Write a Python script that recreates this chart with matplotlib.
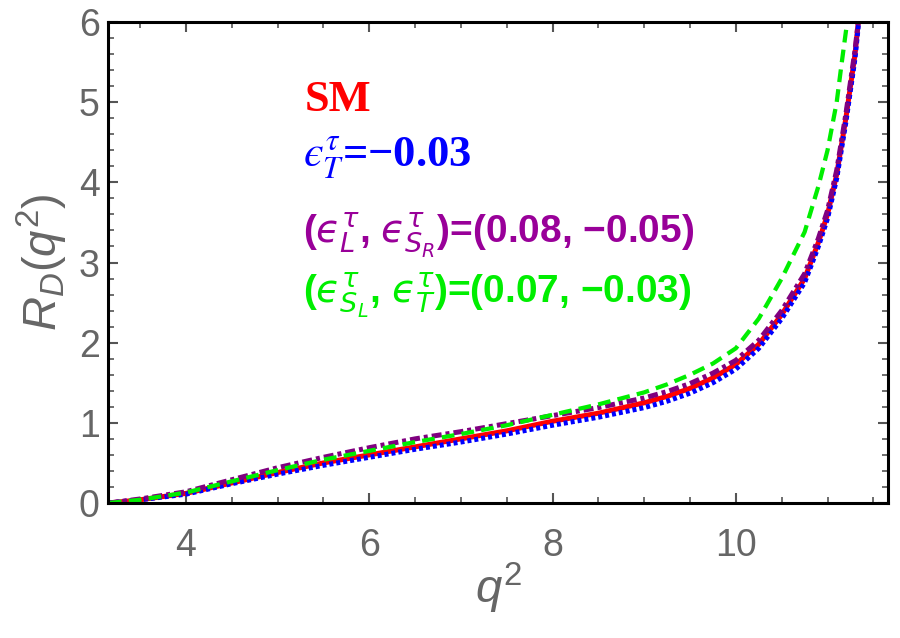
import numpy as np
import matplotlib.pyplot as plt
from matplotlib.ticker import MultipleLocator

# q^2 grid
q2 = [3.16, 3.5, 4.0, 4.5, 5.0, 5.5, 6.0, 6.5, 7.0, 7.5, 8.0, 8.5, 9.0, 9.25, 9.5, 9.75,
      10.0, 10.25, 10.5, 10.75, 10.9, 11.0, 11.05, 11.1, 11.15, 11.2, 11.25, 11.3, 11.34]

r_sm = [0.0, 0.04, 0.12, 0.25, 0.38, 0.50, 0.60, 0.70, 0.80, 0.90, 1.02, 1.12, 1.25, 1.33, 1.43, 1.56,
        1.73, 1.98, 2.35, 2.80, 3.25, 3.60, 3.85, 4.10, 4.45, 4.80, 5.20, 5.60, 6.05]
r_T = [0.0, 0.04, 0.11, 0.24, 0.36, 0.47, 0.57, 0.67, 0.76, 0.86, 0.97, 1.07, 1.19, 1.27, 1.37, 1.50,
       1.67, 1.93, 2.30, 2.75, 3.20, 3.55, 3.80, 4.05, 4.40, 4.75, 5.15, 5.55, 6.00]
r_LSR = [0.0, 0.05, 0.14, 0.29, 0.44, 0.57, 0.69, 0.80, 0.89, 0.99, 1.09, 1.19, 1.31, 1.39, 1.49, 1.62,
         1.78, 2.03, 2.40, 2.86, 3.30, 3.65, 3.90, 4.15, 4.50, 4.85, 5.25, 5.65, 6.05]

q2_g = [3.16, 3.5, 4.0, 4.5, 5.0, 5.5, 6.0, 6.5, 7.0, 7.5, 8.0, 8.5, 9.0, 9.25, 9.5, 9.75,
        10.0, 10.25, 10.5, 10.75, 10.9, 11.0, 11.05, 11.1, 11.15, 11.22]
r_SLT = [0.0, 0.04, 0.13, 0.27, 0.41, 0.54, 0.65, 0.76, 0.86, 0.97, 1.10, 1.23, 1.38, 1.48, 1.60, 1.74,
         1.93, 2.30, 2.80, 3.38, 3.95, 4.40, 4.70, 5.00, 5.45, 6.05]

plt.rcParams['font.family'] = ['Liberation Sans', 'DejaVu Sans']
plt.rcParams['mathtext.fontset'] = 'custom'
plt.rcParams['mathtext.it'] = 'Liberation Sans:italic'
plt.rcParams['mathtext.rm'] = 'Liberation Sans'

fig = plt.figure(figsize=(9, 6.38), dpi=100)
ax = fig.add_axes([0.12, 0.2116, 0.8667, 0.7539])

lw = 3.6
ax.plot(q2, r_sm, color='#ff0000', lw=lw, solid_capstyle='butt')
ax.plot(q2, r_T, color='#0000ff', lw=lw, linestyle=(0, (0.8, 0.6)))
ax.plot(q2, r_LSR, color='#800080', lw=lw, linestyle=(0, (2.0, 0.8, 0.8, 0.8)))
ax.plot(q2_g, r_SLT, color='#00ee00', lw=lw * 0.85, linestyle=(0, (3.0, 1.7)))

ax.set_xlim(3.15, 11.66)
ax.set_ylim(0, 6)
ax.xaxis.set_major_locator(MultipleLocator(2))
ax.xaxis.set_minor_locator(MultipleLocator(0.5))
ax.yaxis.set_major_locator(MultipleLocator(1))
ax.yaxis.set_minor_locator(MultipleLocator(0.2))

ax.tick_params(which='both', direction='in', top=True, right=True, colors='#555555',
               labelcolor='#666666', labelsize=27)
ax.tick_params(which='major', length=7, width=1.5)
ax.tick_params(which='minor', length=4, width=1.2)
ax.tick_params(axis='x', pad=18)
ax.tick_params(axis='y', pad=6)
for axis in (ax.xaxis, ax.yaxis):
    for t in axis.get_major_ticks() + axis.get_minor_ticks():
        t.tick2line.set_color('#bbbbbb')

for s in ax.spines.values():
    s.set_linewidth(2.2)
    s.set_color('black')

ax.set_xlabel(r'$q^2$', fontsize=34, color='#666666', labelpad=-2)
ax.set_ylabel(r'$R_D(q^2)$', fontsize=34, color='#666666', labelpad=6)

# labels inside the plot
eps = '\u03f5'
fig.text(305 / 900, 1 - 100 / 638, 'SM', color='#ff0000', fontsize=32,
         fontweight='bold', family='Liberation Serif', va='center')
fig.text(303 / 900, 1 - 158 / 638,
         r'$\boldsymbol{' + eps + r'^{\tau}_{T}}$=−0.03', color='#0000ff', fontsize=32,
         fontweight='bold', family='Liberation Serif', math_fontfamily='stix', va='center')
fig.text(303 / 900, 1 - 235 / 638,
         r'($\boldsymbol{' + eps + r'^{\tau}_{L}}$, $\boldsymbol{' + eps + r'^{\tau}_{S_R}}$)=(0.08, −0.05)',
         color='#990099', fontsize=28, fontweight='bold', math_fontfamily='dejavusans', va='center')
fig.text(303 / 900, 1 - 295 / 638,
         r'($\boldsymbol{' + eps + r'^{\tau}_{S_L}}$, $\boldsymbol{' + eps + r'^{\tau}_{T}}$)=(0.07, −0.03)',
         color='#00ee00', fontsize=28, fontweight='bold', math_fontfamily='dejavusans', va='center')

fig.savefig('out.png', dpi=100)
